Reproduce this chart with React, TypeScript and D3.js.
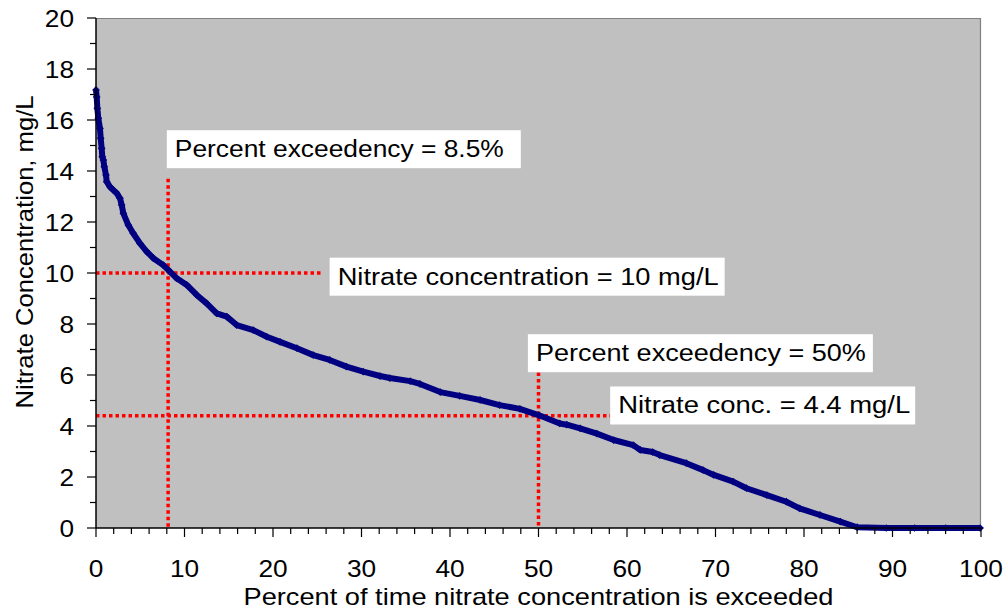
import React, { useEffect, useRef } from 'react';
import * as d3 from 'd3';

// exceedance curve: percent of time exceeded vs nitrate mg/L
const pctExceeded = [
  0.0, 0.08, 0.15, 0.26, 0.45, 0.53, 0.64, 0.71, 0.83, 0.94, 1.13, 1.21, 1.58, 1.96, 2.34, 2.71,
  2.9, 3.09, 3.65, 4.2, 4.97, 5.73, 6.48, 7.6, 8.36, 9.12, 10.25, 11.38, 12.5, 13.64, 14.77,
  15.9, 17.77, 19.3, 20.8, 22.7, 24.55, 26.4, 28.3, 30.2, 32.1, 33.2, 35.5, 36.6, 38.9, 41.1,
  43.4, 45.6, 47.9, 50.0, 52.4, 53.2, 54.7, 56.6, 58.5, 60.7, 61.5, 62.9, 63.7, 66.7, 68.6,
  69.8, 72.0, 73.5, 75.8, 78.0, 79.5, 81.8, 84.1, 86.0, 89.3, 92.5, 96.0, 99.9,
];
const nitrate = [
  17.18, 16.9, 16.46, 16.07, 15.67, 15.28, 14.89, 14.56, 14.43, 14.17, 13.84, 13.58, 13.38,
  13.25, 13.13, 12.93, 12.67, 12.34, 11.88, 11.56, 11.16, 10.84, 10.58, 10.31, 10.05, 9.79,
  9.53, 9.14, 8.81, 8.42, 8.29, 7.96, 7.76, 7.5, 7.3, 7.05, 6.78, 6.59, 6.33, 6.13, 5.96, 5.88,
  5.76, 5.65, 5.33, 5.18, 5.02, 4.82, 4.67, 4.43, 4.1, 4.05, 3.91, 3.7, 3.45, 3.25, 3.06, 2.98,
  2.86, 2.54, 2.27, 2.08, 1.82, 1.56, 1.29, 1.03, 0.77, 0.51, 0.25, 0.03, 0.0, 0.0, 0.0, 0.0,
];

const xTicks = [0, 10, 20, 30, 40, 50, 60, 70, 80, 90, 100];
const yTicks = [0, 2, 4, 6, 8, 10, 12, 14, 16, 18, 20];

// dotted guide lines (x1, y1, x2, y2 in data units)
const guides = [
  [8.15, 13.7, 8.15, 0],
  [0, 10, 25.5, 10],
  [50, 6.1, 50, 0],
  [0, 4.4, 58.1, 4.4],
];

// annotation boxes: text, left (pct), top (mg/L), box width px, text width px
const notes: [string, number, number, number, number][] = [
  ['Percent exceedency = 8.5%', 8.0, 15.6, 354, 329],
  ['Nitrate concentration = 10 mg/L', 26.4, 10.6, 395, 381],
  ['Percent exceedency = 50%', 48.8, 7.6, 345, 330],
  ['Nitrate conc. = 4.4 mg/L', 58.1, 5.55, 305, 292],
];

const FONT = '"Liberation Sans", Arial, sans-serif';

export default function App() {
  const ref = useRef<SVGSVGElement>(null);

  useEffect(() => {
    document.body.style.margin = '0';
    const svg = d3.select(ref.current);
    svg.selectAll('*').remove();

    const left = 96, right = 981, top = 18, bottom = 528;
    const x = d3.scaleLinear().domain([0, 100]).range([left, right]);
    const y = d3.scaleLinear().domain([0, 20]).range([bottom, top]);

    svg.append('rect')
      .attr('x', left).attr('y', top)
      .attr('width', right - left).attr('height', bottom - top)
      .attr('fill', '#c0c0c0');
    // grey frame top / right
    svg.append('path')
      .attr('d', `M${left},${top + 0.5}H${right - 0.5}V${bottom}`)
      .attr('fill', 'none').attr('stroke', '#808080').attr('stroke-width', 1.2);

    // guides
    svg.selectAll('.guide').data(guides).enter().append('line')
      .attr('x1', (d) => x(d[0])).attr('y1', (d) => y(d[1]))
      .attr('x2', (d) => x(d[2])).attr('y2', (d) => y(d[3]))
      .attr('stroke', '#ff0000').attr('stroke-width', 3.5)
      .attr('stroke-dasharray', '3.5,3');

    // curve
    const pts = pctExceeded.map((p, i) => [p, nitrate[i]] as [number, number]);
    svg.append('path')
      .datum(pts)
      .attr('d', d3.line().x((d) => x(d[0])).y((d) => y(d[1])))
      .attr('fill', 'none').attr('stroke', '#000080').attr('stroke-width', 6)
      .attr('stroke-linejoin', 'round');
    const sym = d3.symbol(d3.symbolSquare, 30);
    svg.selectAll('.pt').data(pts).enter().append('path')
      .attr('d', sym)
      .attr('transform', (d) => `translate(${x(d[0])},${y(d[1])}) rotate(45)`)
      .attr('fill', '#000080');

    // annotation boxes
    const g = svg.selectAll('.note').data(notes).enter().append('g')
      .attr('transform', (d) => `translate(${x(d[1])},${y(d[2])})`);
    g.append('rect').attr('width', (d) => d[3]).attr('height', 38).attr('fill', '#fff');
    g.append('text')
      .attr('x', 8).attr('y', 27)
      .attr('textLength', (d) => d[4]).attr('lengthAdjust', 'spacingAndGlyphs')
      .style('font-family', FONT).style('font-size', '23.5px').attr('fill', '#000')
      .text((d) => d[0]);

    // axes
    svg.append('line').attr('x1', left).attr('x2', left).attr('y1', top).attr('y2', bottom)
      .attr('stroke', '#000').attr('stroke-width', 1.5);
    svg.append('line').attr('x1', left).attr('x2', right).attr('y1', bottom).attr('y2', bottom)
      .attr('stroke', '#000').attr('stroke-width', 1.5);

    const xMinor = d3.range(0, 101, 2);
    svg.selectAll('.xt').data(xMinor).enter().append('line')
      .attr('x1', (d) => x(d)).attr('x2', (d) => x(d))
      .attr('y1', bottom).attr('y2', (d) => bottom + (d % 10 === 0 ? 9 : 6))
      .attr('stroke', '#000').attr('stroke-width', 1.2);
    const yMinor = d3.range(0, 21, 1);
    svg.selectAll('.yt').data(yMinor).enter().append('line')
      .attr('y1', (d) => y(d)).attr('y2', (d) => y(d))
      .attr('x1', left).attr('x2', (d) => left - (d % 2 === 0 ? 9 : 6))
      .attr('stroke', '#000').attr('stroke-width', 1.2);

    svg.selectAll('.xl').data(xTicks).enter().append('text')
      .attr('x', (d) => x(d)).attr('y', 577)
      .attr('text-anchor', 'middle')
      .attr('textLength', (d) => String(d).length * 14.6).attr('lengthAdjust', 'spacingAndGlyphs')
      .style('font-family', FONT).style('font-size', '24px')
      .text((d) => String(d));
    svg.selectAll('.yl').data(yTicks).enter().append('text')
      .attr('x', 74).attr('y', (d) => y(d) + 8.5)
      .attr('text-anchor', 'end')
      .attr('textLength', (d) => String(d).length * 14.6).attr('lengthAdjust', 'spacingAndGlyphs')
      .style('font-family', FONT).style('font-size', '24px')
      .text((d) => String(d));

    svg.append('text')
      .attr('x', (left + right) / 2).attr('y', 605)
      .attr('text-anchor', 'middle')
      .attr('textLength', 590).attr('lengthAdjust', 'spacingAndGlyphs')
      .style('font-family', FONT).style('font-size', '24px')
      .text('Percent of time nitrate concentration is exceeded');
    svg.append('text')
      .attr('transform', 'translate(33,252) rotate(-90)')
      .attr('text-anchor', 'middle')
      .attr('textLength', 313).attr('lengthAdjust', 'spacingAndGlyphs')
      .style('font-family', FONT).style('font-size', '24px')
      .text('Nitrate Concentration, mg/L');
  }, []);

  return <svg ref={ref} width={1007} height={610} style={{ display: 'block', background: '#fff' }} />;
}
